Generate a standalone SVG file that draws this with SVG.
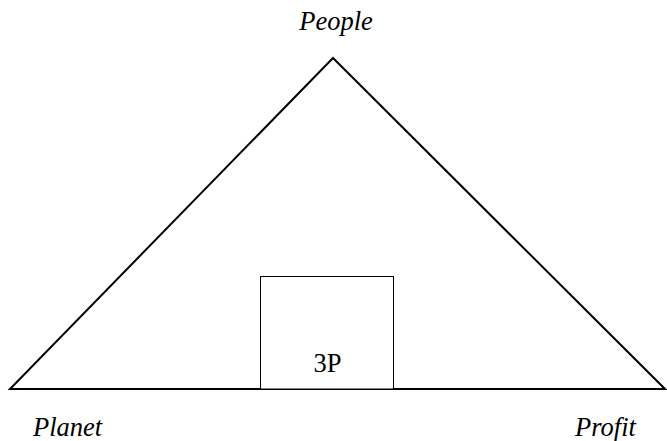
<svg xmlns="http://www.w3.org/2000/svg" width="667" height="441" viewBox="0 0 667 441">
<style>
.lbl{font-family:"Liberation Serif","Times New Roman",serif;font-size:26.5px;font-style:italic;fill:#000}
.txt{font-family:"Liberation Serif","Times New Roman",serif;font-size:26.5px;fill:#000}
</style>
<rect width="667" height="441" fill="#fff"/>
<g id="triangle">
<polygon points="333,58 10,389 665,389" fill="none" stroke="#000" stroke-width="2" stroke-linejoin="miter"/>
</g>
<g id="box">
<rect x="260.5" y="276.5" width="133" height="112.5" fill="#fff" stroke="#000" stroke-width="1"/>
<text class="txt" x="327.5" y="372" text-anchor="middle">3P</text>
</g>
<g id="connectors"/>
<g id="people"><text class="lbl" x="336" y="30" text-anchor="middle">People</text></g>
<g id="planet"><text class="lbl" x="33" y="436">Planet</text></g>
<g id="profit"><text class="lbl" x="575" y="436">Profit</text></g>
</svg>
